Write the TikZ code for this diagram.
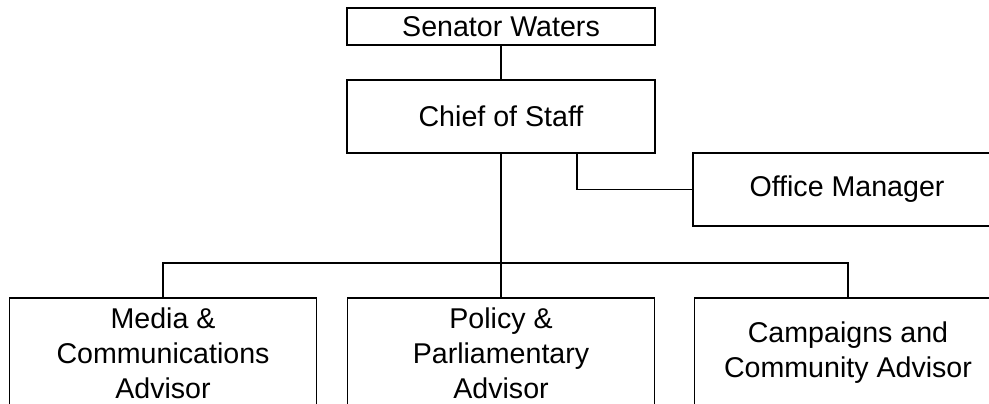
\documentclass[tikz,border=0pt]{standalone}
\usepackage{fontspec}
\setmainfont{Liberation Sans}
\begin{document}
\begin{tikzpicture}[x=0.5pt, y=-0.5pt,
    post/.style={draw, line width=0.8pt, align=center, inner sep=0pt,
      font=\fontsize{14.3}{17.5}\selectfont},
    link/.style={line width=0.55pt}]
  % frame of the picture
  \useasboundingbox (0,0) rectangle (989,403);
  \clip (0,0) rectangle (989,403);

  % Top of the office
  \node[post, minimum width=154pt, minimum height=18.5pt] (sen) at (501,26.5) {Senator Waters};
  \node[post, minimum width=154pt, minimum height=36.5pt] (chief) at (501,116.5) {Chief of Staff};
  \node[post, minimum width=154pt, minimum height=36.5pt] (office) at (847,189.5) {Office Manager};

  % Advisors
  \node[post, minimum width=153.5pt, minimum height=55pt] (media) at (163,353) {Media \&\\Communications\\Advisor};
  \node[post, minimum width=153.5pt, minimum height=55pt] (policy) at (501,353) {Policy \&\\Parliamentary\\Advisor};
  \node[post, minimum width=153.5pt, minimum height=55pt] (camp) at (848,353) {Campaigns and\\Community Advisor};

  \coordinate (bus) at (501,263);
  \coordinate (tap) at (577,153);

  \draw[link] (sen) -- (chief);
  \draw[link] (tap) |- (office.west);
  \draw[link] (chief.south) -- (policy.north);
  \draw[line width=1pt] (media.north) |- (bus) -| (camp.north);
\end{tikzpicture}
\end{document}
